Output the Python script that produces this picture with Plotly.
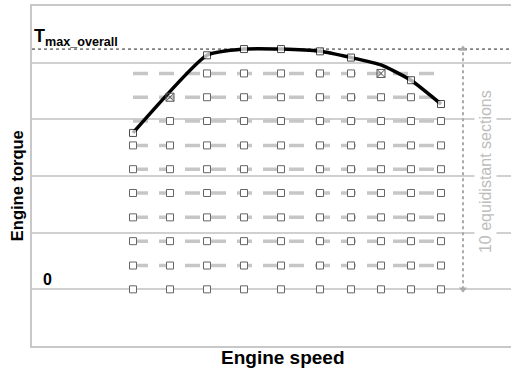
import plotly.graph_objects as go

# ---- data (arbitrary units) ----
speed = [1010, 1380, 1750, 2120, 2490, 2880, 3190, 3490, 3790, 4090]   # engine speed grid columns
t_max = 424                                                           # T_max_overall
row_torque = [0, 42, 85, 127, 170, 212, 254, 297, 339, 381]            # 10 equidistant sections

# grid points present in each row (column indices)
row_cols = [
    [0, 1, 2, 3, 4, 5, 6, 7, 8, 9],
    [0, 1, 2, 3, 4, 5, 6, 7, 8, 9],
    [0, 1, 2, 3, 4, 5, 6, 7, 8, 9],
    [0, 1, 2, 3, 4, 5, 6, 7, 8, 9],
    [0, 1, 2, 3, 4, 5, 6, 7, 8, 9],
    [0, 1, 2, 3, 4, 5, 6, 7, 8, 9],
    [0, 1, 2, 3, 4, 5, 6, 7, 8, 9],
    [1, 2, 3, 4, 5, 6, 7, 8, 9],
    [2, 3, 4, 5, 6, 7, 8],
    [2, 3, 4, 5, 6],
]

# full-load curve
curve_speed = [1010, 1750, 2120, 2490, 2880, 3190, 3490, 3790, 4090]
curve_torque = [276, 413, 424, 424, 420, 409, 396, 369, 327]
curve_marker = [7, 7, 7, 7, 7, 7, 0, 7, 7]

# intersection points (crossed squares)
cross_speed = [1380, 3490]
cross_torque = [339, 381]

arrow_speed = 4310
label_speed = 4530
label_torque = 207

FONT = "Liberation Sans, Arial, sans-serif"

fig = go.Figure()

# dashed gray section lines (rows 1..9)
for t in row_torque[1:]:
    fig.add_trace(go.Scatter(
        x=[speed[0], speed[-1]], y=[t, t], mode="lines",
        line=dict(color="#c6c6c6", width=3.5, dash="15px,11px"),
        hoverinfo="skip", showlegend=False))

# grid points
gx, gy = [], []
for t, cols in zip(row_torque, row_cols):
    for c in cols:
        gx.append(speed[c])
        gy.append(t)
fig.add_trace(go.Scatter(
    x=gx, y=gy, mode="markers",
    marker=dict(symbol="square", size=7, color="white",
                line=dict(color="#666666", width=1)),
    showlegend=False))

# full-load curve
fig.add_trace(go.Scatter(
    x=curve_speed, y=curve_torque, mode="lines+markers",
    line=dict(color="black", width=3.5, shape="spline", smoothing=0.5),
    marker=dict(symbol="square", size=curve_marker, color="white",
                line=dict(color="black", width=1)),
    showlegend=False))

# crossed squares
fig.add_trace(go.Scatter(
    x=cross_speed, y=cross_torque, mode="markers",
    marker=dict(symbol="square-x-open", size=8, color="#555555",
                line=dict(color="#555555", width=1)),
    showlegend=False))

# dotted double arrow for the 10 sections
fig.add_trace(go.Scatter(
    x=[arrow_speed, arrow_speed], y=[0, t_max], mode="lines+markers",
    line=dict(color="#aaaaaa", width=2, dash="dot"),
    marker=dict(symbol=["triangle-down", "triangle-up"], size=7, color="#aaaaaa"),
    showlegend=False))

# reference lines (0 and T_max)
for t in [0, t_max]:
    fig.add_shape(type="line", xref="paper", x0=0, x1=1, yref="y", y0=t, y1=t,
                  line=dict(color="#222222", width=1, dash="dot"), layer="below")

fig.add_annotation(text="<b>T<sub>max_overall</sub></b>", xref="paper", x=0,
                   xanchor="left", yref="y", y=t_max, yanchor="bottom", yshift=-2,
                   showarrow=False, font=dict(family=FONT, size=18, color="black"))
fig.add_annotation(text="<b>0</b>", xref="paper", x=9 / 479, xanchor="left",
                   yref="y", y=0, yanchor="bottom", yshift=-1, showarrow=False,
                   font=dict(family=FONT, size=16, color="black"))
fig.add_annotation(text="10 equidistant sections", x=label_speed, y=label_torque,
                   textangle=-90, showarrow=False, bgcolor="white", borderpad=2,
                   font=dict(family=FONT, size=16, color="#bdbdbd"))
fig.add_annotation(text="<b>Engine torque</b>", xref="paper", x=-15 / 479, xanchor="center",
                   yref="paper", y=0.47, yanchor="middle", textangle=-90, showarrow=False,
                   font=dict(family=FONT, size=16.5, color="black"))
fig.add_annotation(text="<b>Engine speed</b>", xref="paper", x=0.525, xanchor="center",
                   yref="paper", y=-0.035, yanchor="middle", showarrow=False,
                   font=dict(family=FONT, size=19, color="black"))

fig.update_layout(
    width=511, height=373,
    margin=dict(l=32, r=0, t=6, b=27),
    paper_bgcolor="white", plot_bgcolor="white",
    xaxis=dict(range=[0, 4790], showticklabels=False, ticks="", showgrid=False,
               zeroline=False, showline=True, mirror=True, linecolor="#c8c8c8",
               linewidth=2),
    yaxis=dict(range=[-100, 500], showticklabels=False, ticks="", showgrid=True,
               gridcolor="#d0d0d0", gridwidth=1.5, dtick=100, tick0=0,
               zeroline=False, showline=True, linecolor="#c8c8c8", linewidth=2),
)

fig.write_html("out.html", config={"displayModeBar": False},
               post_script="document.body.style.margin='0px';document.body.style.overflow='hidden';")
